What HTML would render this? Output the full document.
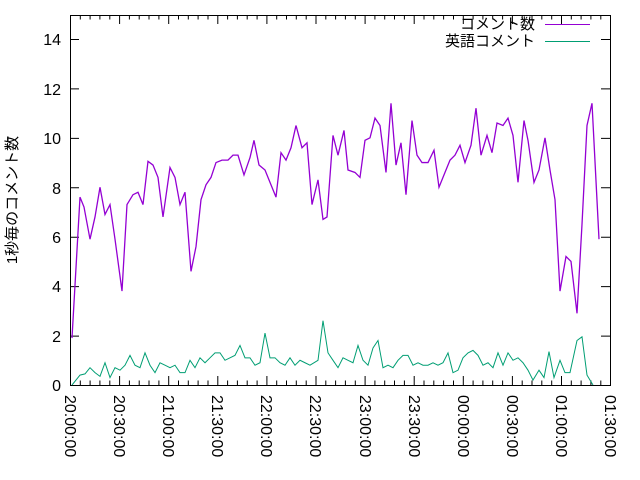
<!DOCTYPE html>
<html><head><meta charset="utf-8"><style>body{margin:0;background:#fff}svg{display:block}text{font-family:"Liberation Sans","Noto Sans CJK JP",sans-serif;fill:#000}</style></head>
<body>
<svg width="640" height="480" viewBox="0 0 640 480" xmlns="http://www.w3.org/2000/svg">
<rect width="640" height="480" fill="#fff"/>
<g stroke="#000" stroke-width="1" fill="none">
<rect x="70.5" y="15.5" width="540" height="370"/>
<path d="M70 385.5h9M610 385.5h-9M70 336.1h9M610 336.1h-9M70 286.6h9M610 286.6h-9M70 237.2h9M610 237.2h-9M70 187.8h9M610 187.8h-9M70 138.4h9M610 138.4h-9M70 88.9h9M610 88.9h-9M70 39.5h9M610 39.5h-9"/>
<path d="M70.5 385v-9M119.6 385v-9M168.7 385v-9M217.8 385v-9M266.9 385v-9M316 385v-9M365.1 385v-9M414.2 385v-9M463.3 385v-9M512.4 385v-9M561.5 385v-9M70.5 15v9M119.6 15v9M168.7 15v9M217.8 15v9M266.9 15v9M316 15v9M365.1 15v9M414.2 15v9M463.3 15v9M512.4 15v9M561.5 15v9"/>
<path id="minor" d="M80.3 385v-4.5M90.1 385v-4.5M99.9 385v-4.5M109.8 385v-4.5M80.3 15v4.5M90.1 15v4.5M99.9 15v4.5M109.8 15v4.5"/>
<use href="#minor" x="49.1"/><use href="#minor" x="98.2"/><use href="#minor" x="147.3"/><use href="#minor" x="196.4"/><use href="#minor" x="245.5"/><use href="#minor" x="294.6"/><use href="#minor" x="343.7"/><use href="#minor" x="392.8"/><use href="#minor" x="441.9"/><use href="#minor" x="491"/>
</g>
<g font-size="16" text-anchor="end">
<text x="61" y="391">0</text><text x="61" y="342">2</text><text x="61" y="292">4</text><text x="61" y="243">6</text><text x="61" y="194">8</text><text x="61" y="144">10</text><text x="61" y="95">12</text><text x="61" y="45">14</text>
</g>
<g font-size="16">
<text transform="translate(65,395) rotate(90)">20:00:00</text>
<text transform="translate(114,395) rotate(90)">20:30:00</text>
<text transform="translate(163,395) rotate(90)">21:00:00</text>
<text transform="translate(212,395) rotate(90)">21:30:00</text>
<text transform="translate(261,395) rotate(90)">22:00:00</text>
<text transform="translate(310,395) rotate(90)">22:30:00</text>
<text transform="translate(360,395) rotate(90)">23:00:00</text>
<text transform="translate(409,395) rotate(90)">23:30:00</text>
<text transform="translate(458,395) rotate(90)">00:00:00</text>
<text transform="translate(507,395) rotate(90)">00:30:00</text>
<text transform="translate(556,395) rotate(90)">01:00:00</text>
<text transform="translate(605,395) rotate(90)">01:30:00</text>
</g>
<text font-size="15" text-anchor="middle" transform="translate(17,200) rotate(-90)">1秒毎のコメント数</text>
<text font-size="15" text-anchor="end" x="535" y="29">コメント数</text>
<text font-size="15" text-anchor="end" x="535" y="46">英語コメント</text>
<path d="M545 24.5h45" stroke="#9400d3"/>
<path d="M545 41.5h45" stroke="#009e73"/>
<g transform="translate(0,385) scale(1,-24.714)" fill="none">
<polyline vector-effect="non-scaling-stroke" stroke="#9400d3" stroke-width="1.3" points="72,1.9 80,7.6 84,7.2 90,5.9 95,6.8 100,8.0 105,6.9 110,7.3 115,5.9 122,3.8 127,7.3 133,7.7 138,7.8 143,7.3 148,9.05 153,8.9 158,8.4 163,6.8 170,8.8 175,8.4 180,7.3 185,7.8 191,4.6 196,5.6 201,7.5 206,8.1 211,8.4 216,9.0 222,9.1 228,9.1 233,9.3 238,9.3 244,8.5 250,9.2 254,9.9 259,8.9 265,8.7 270,8.2 276,7.6 281,9.4 286,9.1 291,9.6 296,10.5 302,9.6 307,9.8 312,7.3 318,8.3 323,6.7 327,6.8 333,10.1 338,9.3 344,10.3 348,8.7 355,8.6 360,8.4 365,9.9 370,10.0 375,10.8 380,10.5 386,8.6 391,11.4 396,8.9 401,9.8 406,7.7 412,10.7 417,9.3 422,9.0 428,9.0 434,9.5 439,8.0 444,8.5 450,9.1 455,9.3 460,9.7 465,9.0 471,9.7 476,11.2 481,9.3 487,10.1 492,9.4 497,10.6 503,10.5 508,10.8 513,10.1 518,8.2 524,10.7 528,9.9 534,8.2 539,8.7 545,10.0 550,8.7 555,7.5 560,3.8 566,5.2 571,5.0 577,2.9 582,6.5 587,10.5 592,11.4 599,5.9"/>
<polyline vector-effect="non-scaling-stroke" stroke="#009e73" stroke-width="1" points="72,0 80,0.4 85,0.45 90,0.7 95,0.5 100,0.35 105,0.9 110,0.3 115,0.7 120,0.6 125,0.8 130,1.2 135,0.8 140,0.7 145,1.3 150,0.8 155,0.5 160,0.9 165,0.8 170,0.7 175,0.8 180,0.5 185,0.5 190,1.0 195,0.7 200,1.1 205,0.9 210,1.1 215,1.3 220,1.3 225,1.0 230,1.1 235,1.2 240,1.6 245,1.1 250,1.1 255,0.8 260,0.9 265,2.1 270,1.1 275,1.1 280,0.9 285,0.8 290,1.1 295,0.8 300,1.0 305,0.9 310,0.8 318,1.0 323,2.6 328,1.3 333,1.0 338,0.7 343,1.1 348,1.0 353,0.9 358,1.6 363,1.0 368,0.8 373,1.5 378,1.8 383,0.7 388,0.8 393,0.7 398,1.0 403,1.2 408,1.2 413,0.8 418,0.9 423,0.8 428,0.8 433,0.9 438,0.8 443,0.9 448,1.3 453,0.5 458,0.6 463,1.1 468,1.3 473,1.4 478,1.2 483,0.8 488,0.9 493,0.7 498,1.3 503,0.8 508,1.3 513,1.0 518,1.1 523,0.9 528,0.6 533,0.2 539,0.6 544,0.3 549,1.35 554,0.3 560,1.0 565,0.5 570,0.5 577,1.8 582,1.95 587,0.4 593,0"/>
</g>
</svg>
</body></html>
